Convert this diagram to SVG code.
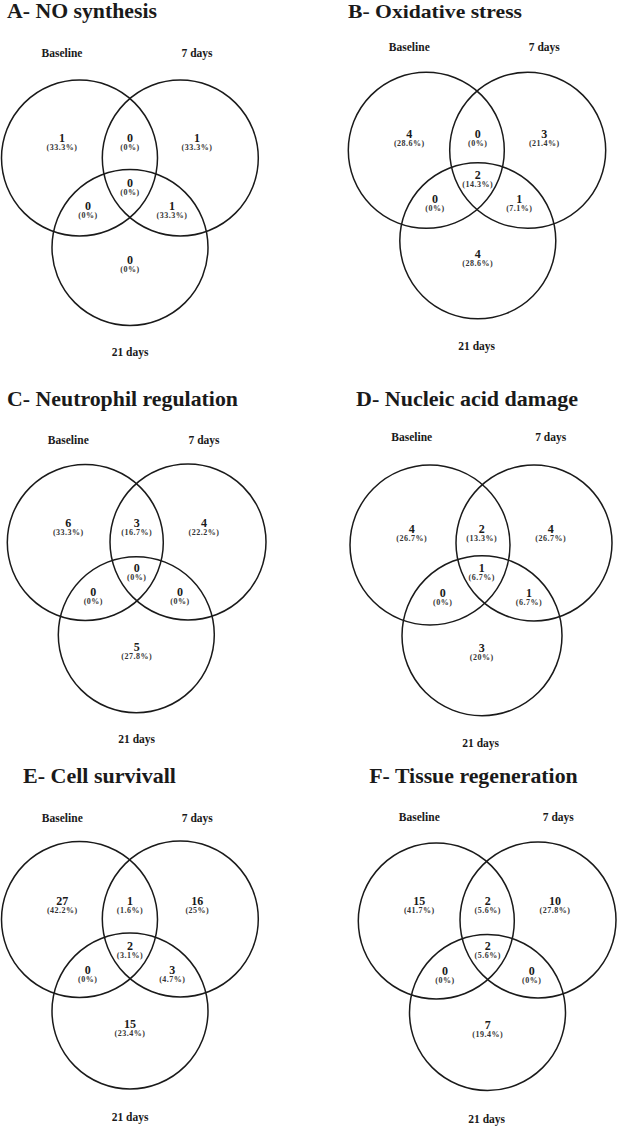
<svg xmlns="http://www.w3.org/2000/svg" width="619" height="1126" viewBox="0 0 619 1126">
<style>
.bg{fill:#fff}
.c{fill:none;stroke:#1a1a1a;stroke-width:1.5}
text{font-family:"Liberation Serif","Times New Roman",serif;font-weight:bold;fill:#1a1a1a}
.t{font-size:21px}
.tb{font-size:19.5px}
.s{font-size:11.5px;text-anchor:middle}
.n{font-size:12px;text-anchor:middle}
.p{font-size:8px;text-anchor:middle;letter-spacing:0.5px;fill:#333}
</style>
<rect class="bg" x="0" y="0" width="619" height="1126"/>

<g id="panel-A">
<text class="t" x="7" y="17.5" textLength="150" lengthAdjust="spacingAndGlyphs">A- NO synthesis</text>
<text class="s" x="62" y="57">Baseline</text>
<text class="s" x="197" y="57">7 days</text>
<text class="s" x="130" y="356">21 days</text>
<circle class="c" cx="79.5" cy="158" r="78"/>
<circle class="c" cx="180.3" cy="158" r="78"/>
<circle class="c" cx="130" cy="247.5" r="78"/>
<text class="n" x="62" y="141.5">1</text><text class="p" x="62" y="149.5">(33.3%)</text>
<text class="n" x="130" y="141.5">0</text><text class="p" x="130" y="149.5">(0%)</text>
<text class="n" x="197" y="141.5">1</text><text class="p" x="197" y="149.5">(33.3%)</text>
<text class="n" x="130" y="187">0</text><text class="p" x="130" y="195">(0%)</text>
<text class="n" x="88" y="210">0</text><text class="p" x="88" y="218">(0%)</text>
<text class="n" x="172" y="210">1</text><text class="p" x="172" y="218">(33.3%)</text>
<text class="n" x="130" y="263.5">0</text><text class="p" x="130" y="271.5">(0%)</text>
</g>

<g id="panel-B">
<text class="tb" x="348" y="17.5" textLength="174" lengthAdjust="spacingAndGlyphs">B- Oxidative stress</text>
<text class="s" x="409.3" y="50.5">Baseline</text>
<text class="s" x="544.3" y="50.5">7 days</text>
<text class="s" x="476.7" y="349.5">21 days</text>
<circle class="c" cx="426.3" cy="150.3" r="78"/>
<circle class="c" cx="527.7" cy="150.3" r="78"/>
<circle class="c" cx="477.8" cy="240.8" r="78"/>
<text class="n" x="409.3" y="137.5">4</text><text class="p" x="409.3" y="145.5">(28.6%)</text>
<text class="n" x="477.7" y="137.5">0</text><text class="p" x="477.7" y="145.5">(0%)</text>
<text class="n" x="544.3" y="137.5">3</text><text class="p" x="544.3" y="145.5">(21.4%)</text>
<text class="n" x="477.7" y="178.5">2</text><text class="p" x="477.7" y="186.5">(14.3%)</text>
<text class="n" x="435" y="202.5">0</text><text class="p" x="435" y="210.5">(0%)</text>
<text class="n" x="519.3" y="202.5">1</text><text class="p" x="519.3" y="210.5">(7.1%)</text>
<text class="n" x="477.7" y="257.5">4</text><text class="p" x="477.7" y="265.5">(28.6%)</text>
</g>

<g id="panel-C">
<text class="t" x="7" y="406" textLength="231" lengthAdjust="spacingAndGlyphs">C- Neutrophil regulation</text>
<text class="s" x="68.3" y="444">Baseline</text>
<text class="s" x="204" y="444">7 days</text>
<text class="s" x="136.7" y="743">21 days</text>
<circle class="c" cx="85.3" cy="542.5" r="78"/>
<circle class="c" cx="188" cy="542" r="78"/>
<circle class="c" cx="136.3" cy="634.7" r="78"/>
<text class="n" x="68.3" y="527">6</text><text class="p" x="68.3" y="535">(33.3%)</text>
<text class="n" x="136.7" y="527">3</text><text class="p" x="136.7" y="535">(16.7%)</text>
<text class="n" x="204" y="527">4</text><text class="p" x="204" y="535">(22.2%)</text>
<text class="n" x="136.7" y="572">0</text><text class="p" x="136.7" y="580">(0%)</text>
<text class="n" x="93.3" y="596">0</text><text class="p" x="93.3" y="604">(0%)</text>
<text class="n" x="180" y="596">0</text><text class="p" x="180" y="604">(0%)</text>
<text class="n" x="136.7" y="650.7">5</text><text class="p" x="136.7" y="658.7">(27.8%)</text>
</g>

<g id="panel-D">
<text class="t" x="356" y="405.7" textLength="222" lengthAdjust="spacingAndGlyphs">D- Nucleic acid damage</text>
<text class="s" x="411.7" y="441">Baseline</text>
<text class="s" x="550.7" y="441">7 days</text>
<text class="s" x="480.7" y="747">21 days</text>
<circle class="c" cx="430" cy="545" r="80"/>
<circle class="c" cx="534" cy="543" r="78"/>
<circle class="c" cx="482" cy="635.7" r="80"/>
<text class="n" x="411.7" y="532.5">4</text><text class="p" x="411.7" y="540.5">(26.7%)</text>
<text class="n" x="481.7" y="532.5">2</text><text class="p" x="481.7" y="540.5">(13.3%)</text>
<text class="n" x="550.7" y="532.5">4</text><text class="p" x="550.7" y="540.5">(26.7%)</text>
<text class="n" x="481.7" y="572">1</text><text class="p" x="481.7" y="580">(6.7%)</text>
<text class="n" x="442.7" y="597">0</text><text class="p" x="442.7" y="605">(0%)</text>
<text class="n" x="529" y="597">1</text><text class="p" x="529" y="605">(6.7%)</text>
<text class="n" x="481.7" y="652">3</text><text class="p" x="481.7" y="660">(20%)</text>
</g>

<g id="panel-E">
<text class="t" x="23" y="783.3" textLength="153" lengthAdjust="spacingAndGlyphs">E- Cell survivall</text>
<text class="s" x="62.3" y="821.5">Baseline</text>
<text class="s" x="197.3" y="821.5">7 days</text>
<text class="s" x="130" y="1120.5">21 days</text>
<circle class="c" cx="79.5" cy="919.5" r="78"/>
<circle class="c" cx="180.3" cy="919" r="78"/>
<circle class="c" cx="130" cy="1011" r="78"/>
<text class="n" x="62.3" y="905">27</text><text class="p" x="62.3" y="913">(42.2%)</text>
<text class="n" x="130" y="905">1</text><text class="p" x="130" y="913">(1.6%)</text>
<text class="n" x="197.3" y="905">16</text><text class="p" x="197.3" y="913">(25%)</text>
<text class="n" x="130" y="950">2</text><text class="p" x="130" y="958">(3.1%)</text>
<text class="n" x="87.7" y="974">0</text><text class="p" x="87.7" y="982">(0%)</text>
<text class="n" x="172.3" y="974">3</text><text class="p" x="172.3" y="982">(4.7%)</text>
<text class="n" x="130" y="1028">15</text><text class="p" x="130" y="1036">(23.4%)</text>
</g>

<g id="panel-F">
<text class="t" x="369.3" y="782.7" textLength="208.4" lengthAdjust="spacingAndGlyphs">F- Tissue regeneration</text>
<text class="s" x="419.3" y="821">Baseline</text>
<text class="s" x="558.3" y="821">7 days</text>
<text class="s" x="486.7" y="1123">21 days</text>
<circle class="c" cx="436.3" cy="921" r="78"/>
<circle class="c" cx="538" cy="920" r="78"/>
<circle class="c" cx="487.5" cy="1012.5" r="78"/>
<text class="n" x="419.3" y="905">15</text><text class="p" x="419.3" y="913">(41.7%)</text>
<text class="n" x="487.7" y="905">2</text><text class="p" x="487.7" y="913">(5.6%)</text>
<text class="n" x="555" y="905">10</text><text class="p" x="555" y="913">(27.8%)</text>
<text class="n" x="487.7" y="950">2</text><text class="p" x="487.7" y="958">(5.6%)</text>
<text class="n" x="445" y="975">0</text><text class="p" x="445" y="983">(0%)</text>
<text class="n" x="531.7" y="975">0</text><text class="p" x="531.7" y="983">(0%)</text>
<text class="n" x="487.7" y="1029">7</text><text class="p" x="487.7" y="1037">(19.4%)</text>
</g>
</svg>
